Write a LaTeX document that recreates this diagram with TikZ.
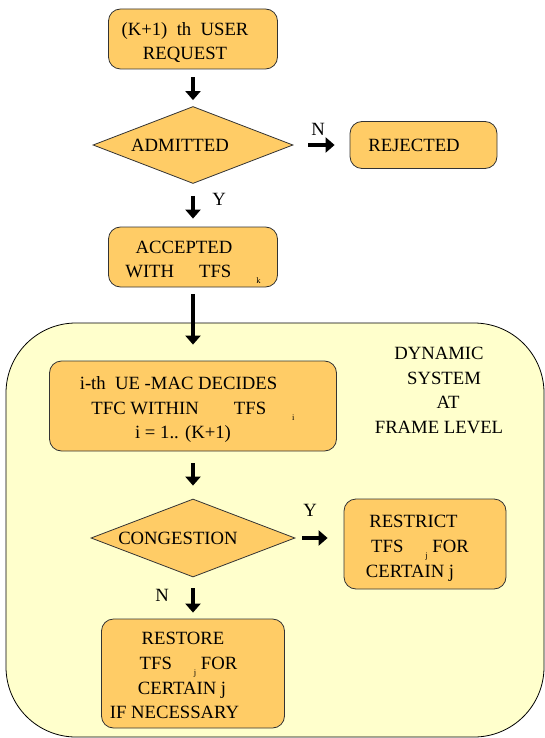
\documentclass[tikz,border=0pt]{standalone}
\usepackage{fontspec}
\setmainfont{Liberation Serif}
\usetikzlibrary{shapes.geometric,arrows.meta}
\definecolor{boxfill}{HTML}{FFCC66}
\definecolor{regfill}{HTML}{FFFFCC}
\definecolor{edgec}{HTML}{333333}
\newcommand{\mlines}[2]{\raisebox{-3.5pt}[\height][\depth]{\begin{tabular}{@{}c@{}}#2\end{tabular}}\hspace*{#1}}
\newcommand{\sbs}[1]{\raisebox{-6pt}{\fontsize{8.5}{9}\selectfont #1}}
\begin{document}
\begin{tikzpicture}[x=1pt,y=-1pt,
  font=\fontsize{18.7}{24.5}\selectfont,
  box/.style={draw=edgec, line width=0.8pt, fill=boxfill, rounded corners=12pt, inner sep=0pt},
  dia/.style={draw=edgec, line width=0.8pt, fill=boxfill, diamond, aspect=2.6, inner sep=0pt},
  region/.style={draw=black, line width=0.8pt, fill=regfill, rounded corners=70pt, inner sep=0pt},
  flow/.style={line width=3.5pt, -{Triangle[length=9pt,width=15pt]}},
  lbl/.style={inner sep=0pt}]
\useasboundingbox (0,0) rectangle (545,738);
\node[region, minimum width=538pt, minimum height=414pt] (dyn) at (275,530) {};
\node[lbl] (dyntxt) at (439,388) {\mlines{0pt}{DYNAMIC\\\hspace*{10pt}SYSTEM\\\hspace*{18pt}AT\\FRAME LEVEL}};

\node[box, minimum width=169pt, minimum height=60pt] (req) at (193,39)
  {\mlines{16pt}{(K+1)\ \ th\ \ USER\\REQUEST}};
\node[dia, minimum width=200pt, minimum height=77pt] (adm) at (193,145)
  {ADMITTED\hspace*{26pt}};
\node[box, minimum width=147pt, minimum height=47pt] (rej) at (423.5,145)
  {REJECTED\hspace*{19pt}};
\node[box, minimum width=169pt, minimum height=60pt] (acc) at (193,257)
  {\mlines{0pt}{ACCEPTED\hspace*{18pt}\\WITH\hspace{25pt}TFS\hspace{25pt}\sbs{k}}};
\node[box, minimum width=287pt, minimum height=90pt] (mac) at (193,406)
  {\mlines{0pt}{i-th\ \ UE -MAC DECIDES\hspace*{29pt}\\TFC WITHIN\hspace{35pt}TFS\hspace{26pt}\sbs{i}\\i = 1.. (K+1)\hspace*{20pt}}};
\node[dia, minimum width=204pt, minimum height=78pt] (cong) at (193,538)
  {CONGESTION\hspace*{30pt}};
\node[box, minimum width=162pt, minimum height=90pt] (res) at (425,544)
  {\mlines{10pt}{RESTRICT\hspace*{13pt}\\TFS\hspace{22pt}\sbs{j} FOR\\CERTAIN j\hspace*{20pt}}};
\node[box, minimum width=183pt, minimum height=109pt] (rst) at (193,673.5)
  {\mlines{37pt}{\hspace*{17pt}RESTORE\\\hspace*{28pt}TFS\hspace{22pt}\sbs{j} FOR\\\hspace*{15pt}CERTAIN j\\IF NECESSARY}};

\node[lbl] (nlab1) at (318,129) {N};
\node[lbl] (ylab1) at (219,199) {Y};
\node[lbl] (ylab2) at (310,510) {Y};
\node[lbl] (nlab2) at (162,595) {N};

\draw[flow, shorten <=8pt, shorten >=6pt] (req.south) -- (adm.north);
\draw[flow, shorten <=15pt, shorten >=15pt] (adm.east) -- (rej.west);
\draw[flow, shorten <=12pt, shorten >=8pt] (adm.south) -- (acc.north);
\draw[flow, shorten <=7pt, shorten >=16pt] (acc.south) -- (mac.north);
\draw[flow, shorten <=12pt, shorten >=13pt] (mac.south) -- (cong.north);
\draw[flow, shorten <=7pt, shorten >=16pt] (cong.east) -- (cong.east -| res.west);
\draw[flow, shorten <=11pt, shorten >=6pt] (cong.south) -- (rst.north);
\end{tikzpicture}
\end{document}
